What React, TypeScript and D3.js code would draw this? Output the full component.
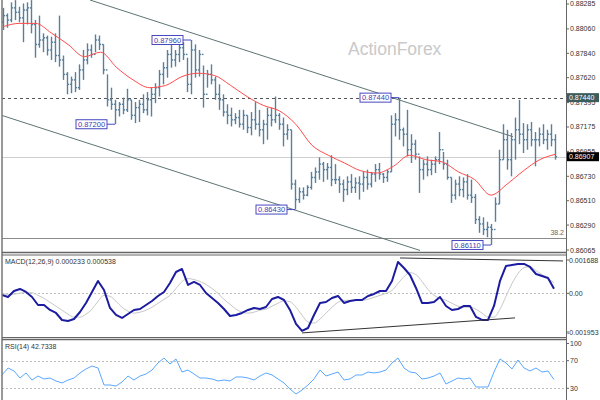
import React from "react";
import * as d3 from "d3";

// ---- price bars (open = previous close) ----
const highs = [
  0.8825, 0.882, 0.883, 0.8832, 0.8826, 0.8829, 0.883, 0.8832, 0.8814, 0.8818,
  0.8802, 0.88, 0.8799, 0.8802, 0.8818, 0.8782, 0.8767, 0.8763, 0.8767, 0.8774,
  0.8787, 0.8793, 0.8792, 0.8801, 0.88, 0.8792, 0.8765, 0.8753, 0.8742, 0.874,
  0.8744, 0.8752, 0.8742, 0.874, 0.8742, 0.8747, 0.8749, 0.8753, 0.8757, 0.8769,
  0.8776, 0.8787, 0.8793, 0.8787, 0.8792, 0.8794, 0.878, 0.8796, 0.8792, 0.8787,
  0.8773, 0.8769, 0.8774, 0.8763, 0.8756, 0.8747, 0.8738, 0.8735, 0.873, 0.8733,
  0.8733, 0.8728, 0.8731, 0.874, 0.8733, 0.8724, 0.8735, 0.8735, 0.8745, 0.873,
  0.8726, 0.872, 0.8715, 0.867, 0.8663, 0.8663, 0.8665, 0.8677, 0.8681, 0.869,
  0.8686, 0.8685, 0.8692, 0.8684, 0.8673, 0.867, 0.8673, 0.8675, 0.8672, 0.8673,
  0.8677, 0.8679, 0.8677, 0.8684, 0.8685, 0.8676, 0.8679, 0.8728, 0.873, 0.8744,
  0.8717, 0.8733, 0.8711, 0.8706, 0.8691, 0.8688, 0.8691, 0.8688, 0.8691, 0.8713,
  0.8695, 0.8688, 0.8672, 0.867, 0.8673, 0.8672, 0.8675, 0.867, 0.8657, 0.8637,
  0.8636, 0.8632, 0.863, 0.8654, 0.8697, 0.872, 0.8715, 0.8712, 0.8726, 0.8742,
  0.8721, 0.872, 0.8722, 0.8713, 0.8717, 0.872, 0.8715, 0.872, 0.8711,
];
const lows = [
  0.8805, 0.8807, 0.8812, 0.8814, 0.8812, 0.8794, 0.881, 0.8802, 0.878, 0.8789,
  0.8785, 0.8782, 0.8778, 0.8776, 0.8772, 0.876, 0.8747, 0.8748, 0.8749, 0.8751,
  0.876, 0.8774, 0.878, 0.8785, 0.8787, 0.8765, 0.8736, 0.8733, 0.872, 0.8727,
  0.8729, 0.8731, 0.8724, 0.8721, 0.8722, 0.873, 0.8728, 0.8727, 0.8739, 0.8745,
  0.8756, 0.8762, 0.8771, 0.8772, 0.8776, 0.8778, 0.8749, 0.8747, 0.8762, 0.8763,
  0.8735, 0.8753, 0.8756, 0.8742, 0.8733, 0.8727, 0.872, 0.8718, 0.872, 0.8717,
  0.8715, 0.8712, 0.871, 0.8715, 0.8709, 0.8702, 0.8706, 0.8718, 0.8721, 0.8715,
  0.87, 0.8706, 0.8661, 0.8643, 0.8649, 0.8652, 0.8655, 0.8661, 0.8667, 0.867,
  0.8668, 0.867, 0.8664, 0.8666, 0.8658, 0.865, 0.8656, 0.8658, 0.8658, 0.8652,
  0.8659, 0.8661, 0.8663, 0.8668, 0.867, 0.8667, 0.8668, 0.8677, 0.8709, 0.8706,
  0.87, 0.8691, 0.8685, 0.8688, 0.8658, 0.867, 0.8673, 0.8674, 0.8676, 0.8684,
  0.8679, 0.867, 0.8649, 0.8652, 0.8655, 0.8654, 0.8652, 0.8649, 0.863, 0.8622,
  0.862, 0.8618, 0.8611, 0.8632, 0.8648, 0.8688, 0.8679, 0.8673, 0.8688, 0.8702,
  0.8694, 0.8697, 0.87, 0.8682, 0.87, 0.8702, 0.8697, 0.87, 0.8688,
];
const closes = [
  0.8818, 0.8814, 0.8825, 0.8821, 0.8816, 0.8823, 0.8825, 0.881, 0.8792, 0.8796,
  0.8798, 0.8787, 0.8794, 0.8782, 0.8778, 0.8765, 0.8756, 0.876, 0.8753, 0.8769,
  0.8778, 0.8787, 0.8783, 0.8796, 0.8792, 0.8769, 0.8742, 0.8738, 0.8733, 0.8738,
  0.8733, 0.8742, 0.8728, 0.8735, 0.8738, 0.8733, 0.8742, 0.8747, 0.8753, 0.8765,
  0.8771, 0.8783, 0.8778, 0.8783, 0.8789, 0.8783, 0.8756, 0.8787, 0.8769, 0.8783,
  0.8747, 0.8765, 0.876, 0.8747, 0.8742, 0.8731, 0.8728, 0.8724, 0.8726, 0.872,
  0.8728, 0.8717, 0.8724, 0.872, 0.8715, 0.872, 0.8728, 0.8724, 0.8728, 0.872,
  0.8711, 0.8715, 0.8666, 0.8652, 0.8659, 0.8656, 0.8663, 0.8672, 0.8677, 0.8684,
  0.8679, 0.8681, 0.867, 0.867, 0.8666, 0.8661, 0.8668, 0.8663, 0.8667, 0.8666,
  0.8672, 0.8666, 0.8675, 0.8679, 0.8675, 0.8672, 0.8677, 0.872, 0.8724, 0.8715,
  0.8711, 0.8697, 0.8702, 0.8693, 0.8679, 0.8684, 0.8679, 0.8684, 0.8688, 0.8697,
  0.8684, 0.8672, 0.8656, 0.8666, 0.8661, 0.8668, 0.8656, 0.8654, 0.8634, 0.863,
  0.8625, 0.8627, 0.8625, 0.8648, 0.8688, 0.8706, 0.8688, 0.8706, 0.8715, 0.8711,
  0.8706, 0.8715, 0.8706, 0.8706, 0.8711, 0.8706, 0.8711, 0.8706, 0.86907,
];
const firstOpen = 0.8812;

// ---- moving average (red) ----
const smaValues = [
  0.8808, 0.8811, 0.8811, 0.8802, 0.8792, 0.8781, 0.8785, 0.8771, 0.876, 0.8753,
  0.8755, 0.8763, 0.8766, 0.8764, 0.8755, 0.8745, 0.8737, 0.8732, 0.872, 0.8701,
  0.8692, 0.8685, 0.8678, 0.8676, 0.8682, 0.8692, 0.8688, 0.8686, 0.8677, 0.867,
  0.8656, 0.8666, 0.8678, 0.8688, 0.8693,
];

// ---- MACD(12,26,9) ----
const macdValues = [
  -0.000081, -0.000182, 0.000121, 0.000223, 0.000071, -0.000182, -0.000587, -0.000587, -0.000839, -0.000991,
  -0.001345, -0.001396, -0.001295, -0.000941, -0.000485, 0.000071, 0.000627, 0.000172, -0.000738, -0.001092,
  -0.001244, -0.001042, -0.000839, -0.000789, -0.000587, -0.000384, -0.000131, 0.000071, 0.000526, 0.001082,
  0.001234, 0.000425, 0.000577, 0.000425, 0.00002, -0.000233, -0.000485, -0.000789, -0.001143, -0.001092,
  -0.000991, -0.000839, -0.000738, -0.000789, -0.000688, -0.000283, -0.000182, -0.000334, -0.000839, -0.001547,
  -0.001901, -0.00175, -0.001092, -0.000485, -0.000435, -0.000233, -0.000131, -0.000485, -0.000384, -0.000334,
  -0.000334, -0.000131, -0.00003, 0.000121, 0.000121, 0.000627, 0.001588, 0.001284, 0.00093, 0.000273,
  -0.000485, -0.000485, -0.000435, -0.000182, -0.000637, -0.000839, -0.000789, -0.000637, -0.000637, -0.001193,
  -0.001345, -0.001345, -0.000637, 0.000627, 0.001386, 0.001436, 0.001487, 0.001487, 0.001335, 0.000981,
  0.00088, 0.000779, 0.000233,
];
const signalValues = [
  0, -0.00005, -0.00004, 0.00001, 0.00004, 0.00003, -0.0001, -0.00025, -0.00045, -0.00065,
  -0.00085, -0.00105, -0.0012, -0.0012, -0.00105, -0.0008, -0.0004, -0.0001, -0.00015, -0.0004,
  -0.0007, -0.0009, -0.001, -0.00095, -0.00085, -0.0007, -0.0005, -0.0003, -0.0001, 0.00025,
  0.0006, 0.00075, 0.0007, 0.0006, 0.00045, 0.00025, 0, -0.0003, -0.00055, -0.0008,
  -0.00095, -0.001, -0.00095, -0.00085, -0.0008, -0.00065, -0.0005, -0.00038, -0.00042, -0.0007,
  -0.0011, -0.00145, -0.0015, -0.0013, -0.001, -0.0007, -0.00045, -0.00035, -0.00035, -0.00035,
  -0.00035, -0.0003, -0.0002, -0.0001, 0, 0.00015, 0.0005, 0.00085, 0.00105, 0.00095,
  0.0006, 0.0002, -0.0001, -0.00025, -0.00035, -0.0005, -0.00065, -0.0007, -0.0007, -0.0008,
  -0.001, -0.0012, -0.0012, -0.0008, -0.00015, 0.0005, 0.001, 0.0013, 0.00135, 0.00115,
  0.00095, 0.00075, 0.000538,
];

// ---- RSI(14) ----
const rsiValues = [
  49.3, 59.4, 55.1, 44.9, 52.2, 42.0, 47.8, 43.5, 44.9, 40.6,
  37.7, 42.0, 44.9, 52.2, 58.0, 62.3, 59.4, 34.8, 34.8, 33.3,
  39.1, 47.8, 42.0, 47.8, 50.7, 56.5, 66.7, 73.9, 65.2, 72.5,
  53.6, 56.5, 50.7, 44.9, 44.9, 43.5, 40.6, 42.0, 40.6, 46.4,
  46.4, 44.9, 42.0, 47.8, 52.2, 49.3, 43.5, 37.7, 29.0, 21.7,
  27.5, 34.8, 43.5, 56.5, 47.8, 50.7, 53.6, 42.0, 43.5, 49.3,
  49.3, 53.6, 52.2, 53.6, 56.5, 66.7, 73.9, 59.4, 53.6, 52.2,
  43.5, 44.9, 47.8, 52.2, 36.2, 40.6, 44.9, 43.5, 44.9, 31.9,
  31.9, 31.9, 53.6, 72.5, 66.7, 58.0, 71.0, 59.4, 55.1, 59.4,
  53.6, 55.1, 42.7,
];

// ---- axis ticks / levels / annotations ----
const priceTicks = [0.88285, 0.8806, 0.8784, 0.8762, 0.87395, 0.87175, 0.86955, 0.8673, 0.8651, 0.8629, 0.86065];
const markedLevels = [0.8744, 0.86907];
const swingLabels = [
  { bar: 47, value: 0.8796, label: "0.87960" },
  { bar: 28, value: 0.872, label: "0.87200" },
  { bar: 99, value: 0.8744, label: "0.87440" },
  { bar: 73, value: 0.8643, label: "0.86430" },
  { bar: 122, value: 0.8611, label: "0.86110" },
];
const fibValue = 0.86175;
const fibLabel = "38.2";
const channelUpper = [{ bar: 21.75, value: 0.88321 }, { bar: 127.5, value: 0.87087 }];
const channelLower = [{ bar: -0.75, value: 0.87285 }, { bar: 104.25, value: 0.86061 }];
const macdTrendUpper = [{ bar: 99.25, value: 0.00179 }, { bar: 140, value: 0.00164 }];
const macdTrendLower = [{ bar: 74.75, value: -0.002 }, { bar: 128, value: -0.00124 }];
const macdTicks = [0.001688, 0, -0.001953];
const macdTickLabels = ["0.001688", "0.00", "-0.001953"];
const rsiTicks = [100, 70, 30];
const rsiLevels = [70, 30];

const FONT = "'Liberation Sans', Arial, sans-serif";

export default function App() {
  const W = 600;
  const H = 400;
  const axisX = 566;
  const N = highs.length;

  const x = d3.scaleLinear().domain([0, N - 1]).range([3, 555]);
  const y = d3.scaleLinear().domain([0.86047, 0.88321]).range([252, 0]);
  const xs = d3.scaleLinear().domain([0, smaValues.length - 1]).range([3, 556]);
  const xi = d3.scaleLinear().domain([0, macdValues.length - 1]).range([2, 554]);
  const ym = d3.scaleLinear().domain([-0.001953, 0.001688]).range([332, 260]);
  const yr = d3.scaleLinear().domain([30, 70]).range([388.3, 360.7]);

  const opens = closes.map((c, i) => (i === 0 ? firstOpen : closes[i - 1]));

  const smaLine = d3.line<number>().x((d, i) => xs(i)).y((d) => y(d)).curve(d3.curveMonotoneX);
  const macdLine = d3.line<number>().x((d, i) => xi(i)).y((d) => ym(d));
  const signalLine = d3.line<number>().x((d, i) => xi(i)).y((d) => ym(d)).curve(d3.curveMonotoneX);
  const rsiLine = d3.line<number>().x((d, i) => xi(i)).y((d) => yr(d));
  const segMain = d3.line<{ bar: number; value: number }>().x((d) => x(d.bar)).y((d) => y(d.value));
  const segMacd = d3.line<{ bar: number; value: number }>().x((d) => x(d.bar)).y((d) => ym(d.value));

  const barColor = "#5a7f9b";
  const labelColor = "#333";

  return (
    <svg width={W} height={H} style={{ position: "absolute", left: 0, top: 0, background: "#fff" }} fontFamily={FONT}>
      <defs>
        <clipPath id="clipMain"><rect x={2} y={0} width={axisX - 2} height={252} /></clipPath>
        <clipPath id="clipMacd"><rect x={2} y={255} width={axisX - 2} height={82} /></clipPath>
        <clipPath id="clipRsi"><rect x={2} y={339} width={axisX - 2} height={61} /></clipPath>
      </defs>
      <rect x={0} y={0} width={W} height={H} fill="#fff" />

      {/* watermark */}
      <text x={348} y={55} fontSize={17.5} fill="#c9c9c9">ActionForex</text>

      {/* ---------- main panel ---------- */}
      <g clipPath="url(#clipMain)">
        <line x1={2} x2={axisX} y1={Math.round(y(markedLevels[1])) + 0.5} y2={Math.round(y(markedLevels[1])) + 0.5} stroke="#cfcfcf" />
        <line x1={2} x2={axisX} y1={Math.round(y(markedLevels[0])) + 0.5} y2={Math.round(y(markedLevels[0])) + 0.5} stroke="#555" strokeDasharray="3,3" />
        <line x1={2} x2={axisX} y1={Math.round(y(fibValue)) + 0.5} y2={Math.round(y(fibValue)) + 0.5} stroke="#8a8a8a" />
        <path d={segMain(channelUpper) || ""} stroke="#5d7474" fill="none" />
        <path d={segMain(channelLower) || ""} stroke="#5d7474" fill="none" />
        {highs.map((h, i) => {
          const cx = Math.round(x(i)) + 0.5;
          return (
            <g key={i} stroke={barColor} strokeWidth={1.4}>
              <line x1={cx} x2={cx} y1={y(h)} y2={y(lows[i])} />
              <line x1={cx - 1.6} x2={cx} y1={y(opens[i])} y2={y(opens[i])} />
              <line x1={cx} x2={cx + 1.6} y1={y(closes[i])} y2={y(closes[i])} />
            </g>
          );
        })}
        <path d={smaLine(smaValues) || ""} stroke="#ff4b4b" strokeWidth={1} fill="none" />
        {swingLabels.map((s, i) => {
          const bx = x(s.bar);
          const by = y(s.value);
          const right = bx - 8;
          return (
            <g key={i}>
              <line x1={right} x2={bx} y1={by} y2={by} stroke="#4848c0" />
              <rect x={right - 31} y={by - 4.5} width={31} height={9} fill="#fff" stroke="#4848c0" />
              <text x={right - 15.5} y={by + 2.6} fontSize={7.5} fill="#4040b0" textAnchor="middle">{s.label}</text>
            </g>
          );
        })}
        <text x={564} y={y(fibValue) - 2.5} fontSize={7} fill="#666" textAnchor="end">{fibLabel}</text>
      </g>

      {/* ---------- MACD panel ---------- */}
      <g clipPath="url(#clipMacd)">
        <line x1={2} x2={axisX} y1={Math.round(ym(0)) + 0.5} y2={Math.round(ym(0)) + 0.5} stroke="#bdbdbd" strokeDasharray="2,2" />
        <path d={signalLine(signalValues) || ""} stroke="#c8c8c8" strokeWidth={1} fill="none" />
        <path d={macdLine(macdValues) || ""} stroke="#1c1ca0" strokeWidth={2} fill="none" strokeLinejoin="round" />
        <path d={segMacd(macdTrendUpper) || ""} stroke="#333" fill="none" />
        <path d={segMacd(macdTrendLower) || ""} stroke="#333" fill="none" />
        <text x={5} y={264} fontSize={7} fill={labelColor}>MACD(12,26,9) 0.000233 0.000538</text>
      </g>

      {/* ---------- RSI panel ---------- */}
      <g clipPath="url(#clipRsi)">
        {rsiLevels.map((lv) => (
          <line key={lv} x1={2} x2={axisX} y1={Math.round(yr(lv)) + 0.5} y2={Math.round(yr(lv)) + 0.5} stroke="#bdbdbd" strokeDasharray="2,2" />
        ))}
        <path d={rsiLine(rsiValues) || ""} stroke="#5aa8ff" strokeWidth={1} fill="none" />
        <text x={5} y={349} fontSize={7} fill={labelColor}>RSI(14) 42.7338</text>
      </g>

      {/* ---------- frames ---------- */}
      <line x1={2} x2={2} y1={0} y2={H} stroke="#777" strokeWidth={1.5} />
      <line x1={2} x2={axisX} y1={252.5} y2={252.5} stroke="#666" strokeWidth={1.5} />
      <line x1={2} x2={axisX} y1={255} y2={255} stroke="#666" strokeWidth={1} />
      <line x1={2} x2={axisX} y1={337.5} y2={337.5} stroke="#666" strokeWidth={1} />
      <line x1={2} x2={axisX} y1={339.5} y2={339.5} stroke="#666" strokeWidth={1.5} />
      <line x1={axisX + 0.5} x2={axisX + 0.5} y1={0} y2={H} stroke="#666" />

      {/* price axis */}
      {priceTicks.map((t) => (
        <g key={t}>
          <line x1={axisX} x2={axisX + 3} y1={y(t)} y2={y(t)} stroke="#666" />
          <text x={axisX + 4} y={y(t) + 2.5} fontSize={7} fill={labelColor}>{t.toFixed(5)}</text>
        </g>
      ))}
      {markedLevels.map((v, i) => (
        <g key={v}>
          <rect x={axisX + 1} y={y(v) - 4.5} width={32} height={9} fill={i === 0 ? "#3d5c5c" : "#000"} />
          <text x={axisX + 3} y={y(v) + 2.6} fontSize={7} fill="#fff">{v.toFixed(5)}</text>
        </g>
      ))}

      {/* MACD axis */}
      {macdTicks.map((t, i) => (
        <g key={t}>
          <line x1={axisX} x2={axisX + 3} y1={ym(t)} y2={ym(t)} stroke="#666" />
          <text x={axisX + (t < 0 ? 1 : 3)} y={ym(t) + 2.5} fontSize={7} fill={labelColor}>{macdTickLabels[i]}</text>
        </g>
      ))}

      {/* RSI axis */}
      {rsiTicks.map((t) => (
        <g key={t}>
          <line x1={axisX} x2={axisX + 3} y1={Math.max(yr(t), 343.5)} y2={Math.max(yr(t), 343.5)} stroke="#666" />
          <text x={axisX + 4} y={Math.max(yr(t), 343.5) + 2.5} fontSize={7} fill={labelColor}>{t}</text>
        </g>
      ))}
    </svg>
  );
}
